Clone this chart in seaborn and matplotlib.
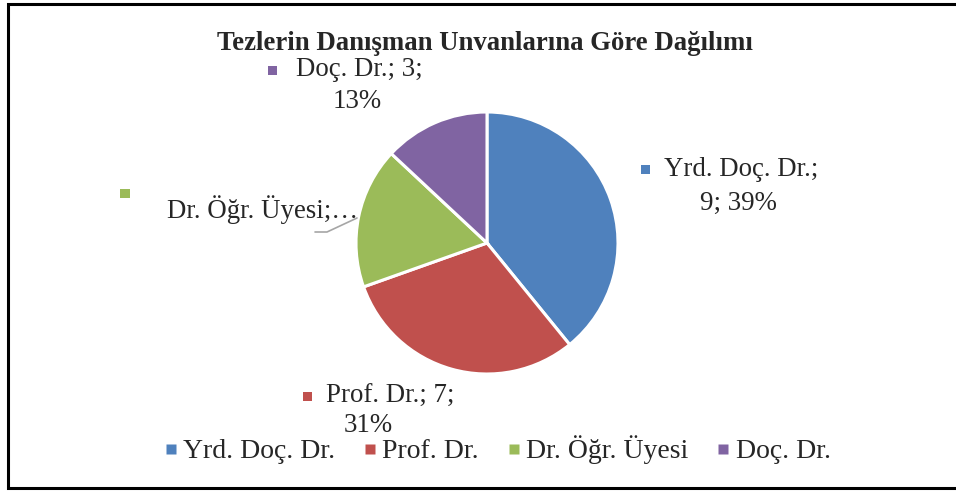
"""Pie chart: distribution of theses by advisor title."""

import matplotlib

matplotlib.use("Agg")
import matplotlib.pyplot as plt
import seaborn as sns
from matplotlib.lines import Line2D
from matplotlib.patches import Rectangle

W, H = 956, 491

TITLE = "Tezlerin Danışman Unvanlarına Göre Dağılımı"
CATEGORIES = ["Yrd. Doç. Dr.", "Prof. Dr.", "Dr. Öğr. Üyesi", "Doç. Dr."]
COUNTS = [9, 7, 4, 3]
PERCENT_TEXT = ["39%", "31%", "17%", "13%"]
COLORS = ["#4F81BD", "#C0504D", "#9BBB59", "#8064A2"]


def px(x, y):
    """Pixel position (from top-left) to figure fraction."""
    return x / W, 1 - y / H


def polyline(fig, pts, **kw):
    xs = [px(*p)[0] for p in pts]
    ys = [px(*p)[1] for p in pts]
    fig.add_artist(Line2D(xs, ys, transform=fig.transFigure, **kw))


def main() -> None:
    sns.set_theme(style="white")
    plt.rcParams["font.family"] = ["Liberation Serif", "DejaVu Serif"]

    fig = plt.figure(figsize=(W / 100, H / 100), dpi=100)
    fig.patch.set_facecolor("white")

    # outer frame: left, top and bottom only (right side runs off the image)
    polyline(fig, [(W + 5, 4), (8, 4), (8, 488), (W + 5, 488)],
             color="black", linewidth=2.2, solid_joinstyle="miter")

    cx, cy, r = 487, 243, 131
    left, bottom = px(cx - r, cy + r)
    ax = fig.add_axes([left, bottom, 2 * r / W, 2 * r / H])
    ax.pie(COUNTS, colors=COLORS, startangle=90, counterclock=False,
           wedgeprops=dict(edgecolor="white", linewidth=2.2))
    ax.set_xlim(-1, 1)
    ax.set_ylim(-1, 1)
    ax.axis("off")

    fs = 19.4
    fig.text(*px(485, 43), TITLE, ha="center", va="center", fontsize=19.3, fontweight="bold")

    def key(x, y, color):
        w, h = 9 / W, 9 / H
        fx, fy = px(x, y)
        fig.add_artist(Rectangle((fx - w / 2, fy - h / 2), w, h, transform=fig.transFigure,
                                 facecolor=color, edgecolor="none"))

    # data labels (Excel style, with legend key)
    key(645, 170, COLORS[0])
    fig.text(*px(664, 170), f"{CATEGORIES[0]};", ha="left", va="center", fontsize=fs)
    fig.text(*px(738, 203), f"{COUNTS[0]}; {PERCENT_TEXT[0]}", ha="center", va="center", fontsize=fs)

    key(307, 396, COLORS[1])
    fig.text(*px(326, 396), f"{CATEGORIES[1]}; {COUNTS[1]};", ha="left", va="center", fontsize=fs)
    fig.text(*px(368, 426), PERCENT_TEXT[1], ha="center", va="center", fontsize=fs)

    key(125, 193, COLORS[2])
    fig.text(*px(167, 210), f"{CATEGORIES[2]};…", ha="left", va="center", fontsize=fs)
    polyline(fig, [(315, 232), (327, 232), (357, 218)], color="#A6A6A6", linewidth=1.2)

    key(272, 70, COLORS[3])
    fig.text(*px(296, 70), f"{CATEGORIES[3]}; {COUNTS[3]};", ha="left", va="center", fontsize=fs)
    fig.text(*px(357, 101), PERCENT_TEXT[3], ha="center", va="center", fontsize=fs)

    handles = [Line2D([], [], marker="s", linestyle="none", markersize=6.5,
                      markerfacecolor=c, markeredgecolor="none") for c in COLORS]
    fig.legend(handles, CATEGORIES, loc="center", bbox_to_anchor=px(498, 450), ncol=4,
               frameon=False, fontsize=20, handlelength=0.4, handletextpad=0.25,
               columnspacing=1.05, borderpad=0)

    fig.savefig("out.png", dpi=100)
    plt.close(fig)


if __name__ == "__main__":
    main()
